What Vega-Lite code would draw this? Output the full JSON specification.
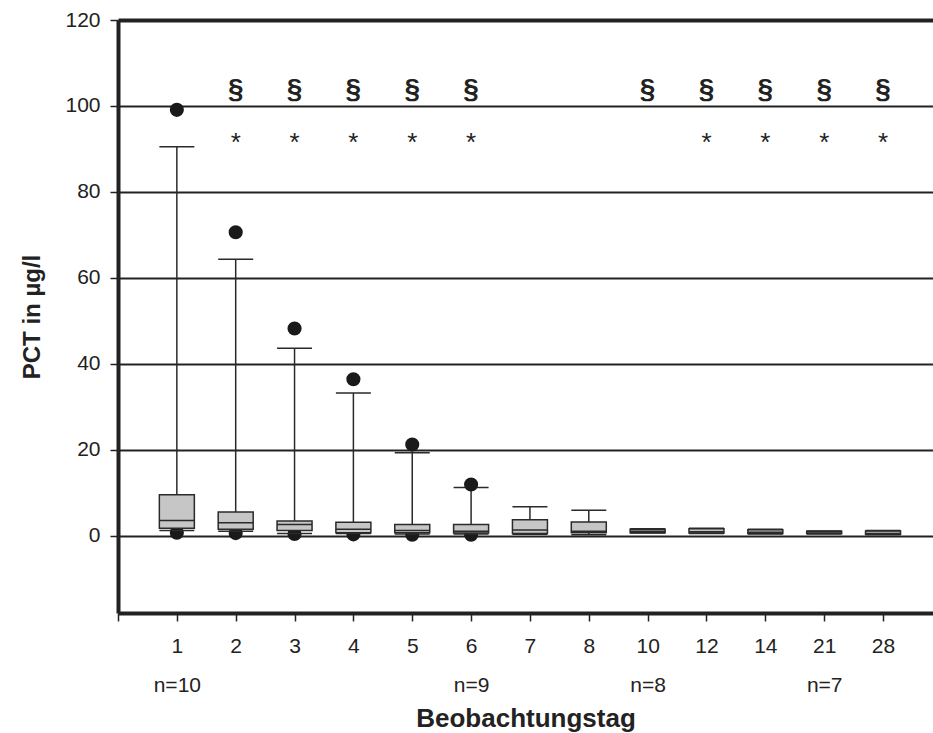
{
  "$schema": "https://vega.github.io/schema/vega-lite/v6.json",
  "width": 815,
  "height": 593,
  "autosize": {"type": "none"},
  "padding": {"left": 118, "top": 20, "right": 0, "bottom": 120},
  "background": "white",
  "config": {
    "view": {"stroke": null},
    "font": "Liberation Sans",
    "axisY": {
      "tickCount": 7,
      "gridColor": "#222222",
      "gridOpacity": 1,
      "domainColor": "#222222",
      "domainWidth": 4,
      "tickColor": "#222222",
      "tickSize": 8,
      "tickWidth": 1.5,
      "labelFontSize": 21,
      "labelColor": "#222222",
      "labelPadding": 10,
      "titleFontSize": 24,
      "titleFontWeight": "bold",
      "titleColor": "#222222",
      "titlePadding": 20
    },
    "axisX": {
      "grid": false,
      "domainColor": "#222222",
      "domainWidth": 4,
      "tickColor": "#222222",
      "tickSize": 8,
      "tickWidth": 1.5,
      "labelFontSize": 21,
      "labelColor": "#222222",
      "labelPadding": 14,
      "labelLineHeight": 39,
      "labelAngle": 0,
      "titleFontSize": 26,
      "titleFontWeight": "bold",
      "titleColor": "#222222",
      "titlePadding": 10
    }
  },
  "data": {
    "values": [
      {"day": "1", "lower": 1.2, "q1": 1.7, "median": 3.5, "q3": 9.5, "upper": 90.5, "hi": 99.1, "lo": 0.7, "sect": "", "star": ""},
      {"day": "2", "lower": 1.0, "q1": 1.5, "median": 3.0, "q3": 5.5, "upper": 64.3, "hi": 70.6, "lo": 0.6, "sect": "§", "star": "*"},
      {"day": "3", "lower": 0.5, "q1": 1.2, "median": 2.6, "q3": 3.4, "upper": 43.6, "hi": 48.2, "lo": 0.4, "sect": "§", "star": "*"},
      {"day": "4", "lower": 0.5, "q1": 0.7, "median": 1.5, "q3": 3.1, "upper": 33.2, "hi": 36.4, "lo": 0.3, "sect": "§", "star": "*"},
      {"day": "5", "lower": 0.4, "q1": 0.7, "median": 1.2, "q3": 2.6, "upper": 19.3, "hi": 21.2, "lo": 0.2, "sect": "§", "star": "*"},
      {"day": "6", "lower": 0.4, "q1": 0.6, "median": 1.0, "q3": 2.6, "upper": 11.2, "hi": 11.9, "lo": 0.2, "sect": "§", "star": "*"},
      {"day": "7", "lower": 0.3, "q1": 0.5, "median": 1.3, "q3": 3.7, "upper": 6.7, "hi": null, "lo": null, "sect": "", "star": ""},
      {"day": "8", "lower": 0.2, "q1": 0.7, "median": 1.0, "q3": 3.2, "upper": 5.9, "hi": null, "lo": null, "sect": "", "star": ""},
      {"day": "10", "lower": 0.6, "q1": 0.7, "median": 1.0, "q3": 1.5, "upper": 1.6, "hi": null, "lo": null, "sect": "§", "star": ""},
      {"day": "12", "lower": 0.5, "q1": 0.6, "median": 0.9, "q3": 1.6, "upper": 1.7, "hi": null, "lo": null, "sect": "§", "star": "*"},
      {"day": "14", "lower": 0.4, "q1": 0.5, "median": 0.8, "q3": 1.4, "upper": 1.5, "hi": null, "lo": null, "sect": "§", "star": "*"},
      {"day": "21", "lower": 0.4, "q1": 0.5, "median": 0.6, "q3": 1.0, "upper": 1.1, "hi": null, "lo": null, "sect": "§", "star": "*"},
      {"day": "28", "lower": 0.2, "q1": 0.3, "median": 0.5, "q3": 1.1, "upper": 1.2, "hi": null, "lo": null, "sect": "§", "star": "*"}
    ]
  },
  "encoding": {
    "x": {
      "field": "day",
      "type": "ordinal",
      "title": "Beobachtungstag",
      "scale": {
        "type": "point",
        "domain": ["", "1", "2", "3", "4", "5", "6", "7", "8", "10", "12", "14", "21", "28"],
        "padding": 0.4245,
        "align": 0
      },
      "axis": {
        "labelExpr": "datum.value == '1' ? ['1', 'n=10'] : datum.value == '6' ? ['6', 'n=9'] : datum.value == '10' ? ['10', 'n=8'] : datum.value == '21' ? ['21', 'n=7'] : datum.label"
      }
    }
  },
  "layer": [
    {
      "mark": {"type": "rule", "color": "#2a2a2a", "strokeWidth": 1.5},
      "encoding": {
        "y": {
          "field": "lower",
          "type": "quantitative",
          "title": "PCT in µg/l",
          "scale": {"domain": [-18, 120], "nice": false, "zero": false},
          "axis": {
            "values": [0, 20, 40, 60, 80, 100, 120],
            "gridWidth": {"condition": {"test": "datum.value === 120", "value": 4}, "value": 2}
          }
        },
        "y2": {"field": "upper"}
      }
    },
    {
      "mark": {"type": "circle", "size": 200, "color": "#1a1a1a", "opacity": 1},
      "encoding": {"y": {"field": "lo", "type": "quantitative", "title": "PCT in µg/l"}}
    },
    {
      "mark": {"type": "bar", "width": 35, "fill": "#c6c6c6", "stroke": "#2a2a2a", "strokeWidth": 1.5},
      "encoding": {
        "y": {"field": "q1", "type": "quantitative", "title": "PCT in µg/l"},
        "y2": {"field": "q3"}
      }
    },
    {
      "mark": {"type": "tick", "size": 35, "thickness": 1.5, "color": "#2a2a2a", "opacity": 1},
      "encoding": {"y": {"field": "median", "type": "quantitative", "title": "PCT in µg/l"}}
    },
    {
      "mark": {"type": "tick", "size": 35, "thickness": 1.5, "color": "#2a2a2a", "opacity": 1},
      "encoding": {"y": {"field": "lower", "type": "quantitative", "title": "PCT in µg/l"}}
    },
    {
      "mark": {"type": "tick", "size": 35, "thickness": 1.5, "color": "#2a2a2a", "opacity": 1},
      "encoding": {"y": {"field": "upper", "type": "quantitative", "title": "PCT in µg/l"}}
    },
    {
      "mark": {"type": "circle", "size": 200, "color": "#1a1a1a", "opacity": 1},
      "encoding": {"y": {"field": "hi", "type": "quantitative", "title": "PCT in µg/l"}}
    },
    {
      "mark": {"type": "text", "fontSize": 28, "fontWeight": "bold", "color": "#222222", "align": "center", "baseline": "alphabetic"},
      "encoding": {
        "y": {"datum": 101.8, "type": "quantitative"},
        "text": {"field": "sect"}
      }
    },
    {
      "mark": {"type": "text", "fontSize": 26, "color": "#222222", "align": "center", "baseline": "alphabetic"},
      "encoding": {
        "y": {"datum": 89.6, "type": "quantitative"},
        "text": {"field": "star"}
      }
    }
  ]
}
